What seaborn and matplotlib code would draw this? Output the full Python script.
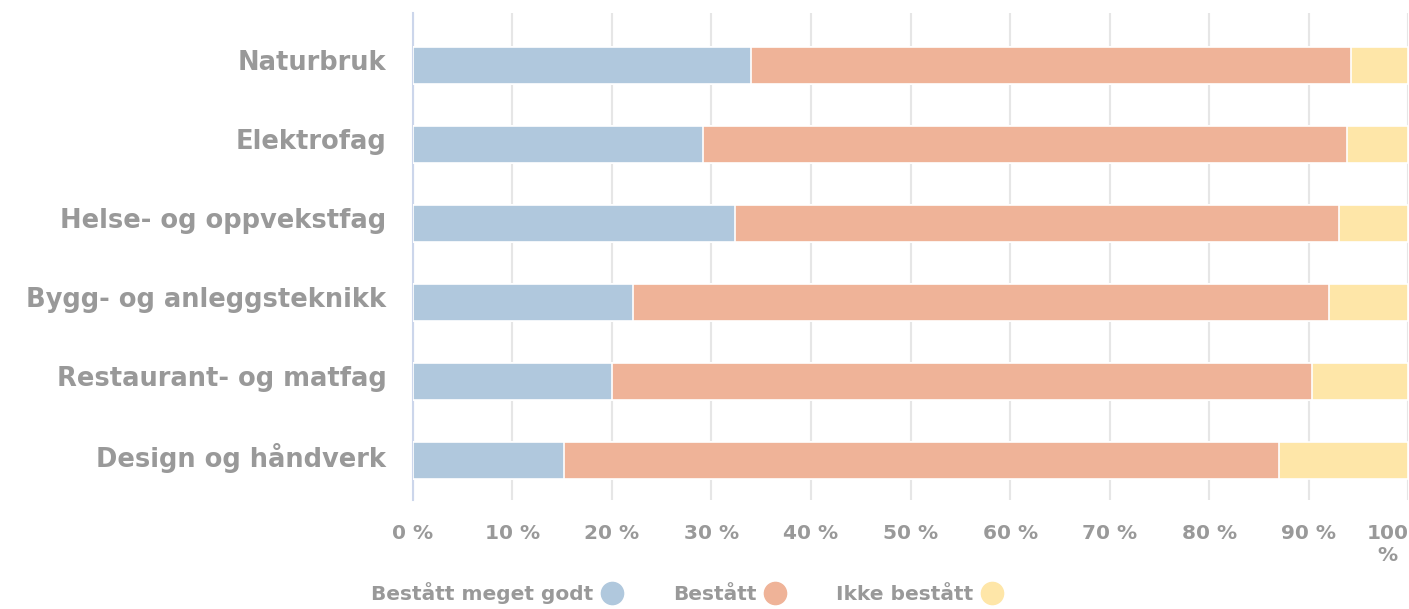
import pandas as pd
import matplotlib.pyplot as plt
import matplotlib.transforms as mtransforms
import seaborn as sns
from matplotlib.lines import Line2D

# data (percent of candidates)
programmes = ['Naturbruk', 'Elektrofag', 'Helse- og oppvekstfag',
              'Bygg- og anleggsteknikk', 'Restaurant- og matfag', 'Design og håndverk']
meget_godt = [34.0, 29.1, 32.4, 22.1, 20.0, 15.2]
bestatt = [60.2, 64.7, 60.6, 69.9, 70.3, 71.8]
ikke_bestatt = [5.8, 6.2, 7.0, 8.0, 9.7, 13.0]
series_names = ['Bestått meget godt', 'Bestått', 'Ikke bestått']
colors = ['#b0c8dd', '#efb398', '#fee6a8']
x_ticks = [0, 10, 20, 30, 40, 50, 60, 70, 80, 90, 100]

df = pd.DataFrame({'Programme': programmes, 'a': meget_godt, 'b': bestatt, 'c': ikke_bestatt})
df['ab'] = df['a'] + df['b']
df['abc'] = df['ab'] + df['c']

sns.set_style('white')
plt.rcParams['font.family'] = ['DejaVu Sans']
grey = '#999999'

fig = plt.figure(figsize=(14.09, 6.09), dpi=100)
ax = fig.add_axes([0.293, 0.179, 0.7065, 0.7997])

# stacked bars: draw cumulative totals from largest to smallest
for col, c in zip(['abc', 'ab', 'a'], colors[::-1]):
    sns.barplot(data=df, x=col, y='Programme', orient='h', color=c, width=0.47,
                saturation=1, edgecolor='white', linewidth=1.2, ax=ax, zorder=3)

ax.set_xlim(0, 100)
ax.set_ylim(5.5, -0.665)
ax.set_xticks(x_ticks)
labels = [f'{t} %' for t in x_ticks]
labels[-1] = '100\n%'
ax.set_xticklabels(labels)
ax.grid(axis='x', color='#e6e6e6', linewidth=1.5, zorder=0)
ax.set_axisbelow(True)
for s in ['top', 'right', 'bottom']:
    ax.spines[s].set_visible(False)
ax.spines['left'].set_color('#ccd6eb')
ax.spines['left'].set_linewidth(1.5)
ax.set_xlabel('')
ax.set_ylabel('')
ax.tick_params(axis='x', length=0, pad=17, labelsize=14.5, labelcolor=grey)
ax.tick_params(axis='y', length=0, pad=19, labelsize=18.5, labelcolor=grey)
for lab in ax.get_xticklabels() + ax.get_yticklabels():
    lab.set_fontweight('bold')
for lab in ax.get_xticklabels():
    lab.set_verticalalignment('top')
# nudge category labels slightly upward, as in the reference
shift = mtransforms.ScaledTranslation(0, 4 / 72, fig.dpi_scale_trans)
for lab in ax.get_yticklabels():
    lab.set_transform(lab.get_transform() + shift)
last = ax.get_xticklabels()[-1]
last.set_horizontalalignment('right')
last.set_multialignment('center')

handles = [Line2D([], [], marker='o', linestyle='', markersize=16,
                  markerfacecolor=c, markeredgecolor=c) for c in colors]
fig.legend(handles, series_names, loc='center', bbox_to_anchor=(0.488, 0.026),
           ncol=3, frameon=False, markerfirst=False,
           prop={'size': 14.5, 'weight': 'bold'},
           labelcolor=grey, columnspacing=2.4, handletextpad=0.35, handlelength=1.2)

plt.savefig('out.png', dpi=100)
